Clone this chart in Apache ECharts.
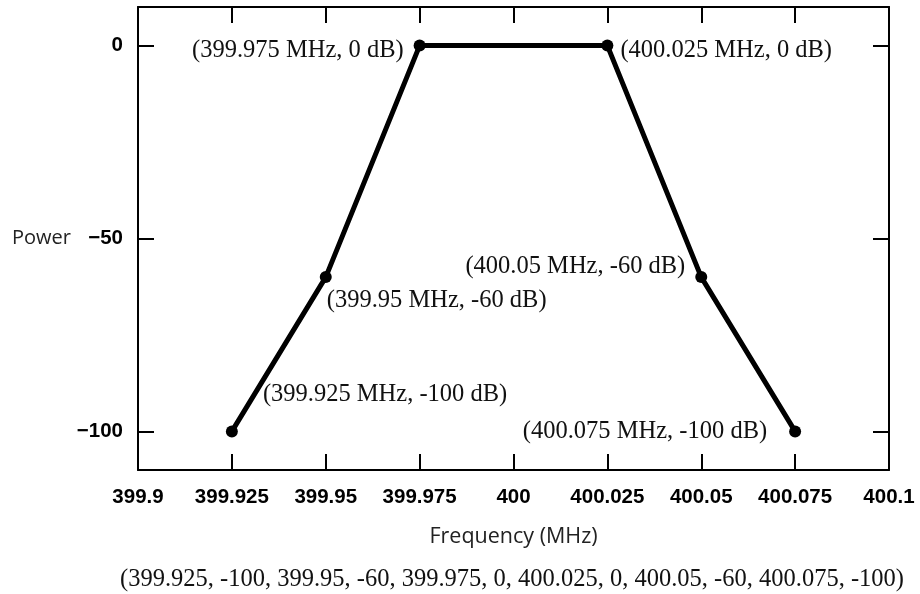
<!DOCTYPE html>
<html>
<head>
<meta charset="utf-8">
<script src="https://cdn.jsdelivr.net/npm/echarts@6/dist/echarts.min.js"></script>
<style>
  html, body { margin: 0; padding: 0; background: #fff; }
  #chart { width: 920px; height: 594px; }
</style>
</head>
<body>
<div id="chart"></div>
<script>
// mask corner points (MHz, dB)
var freqs = [399.925, 399.95, 399.975, 400.025, 400.05, 400.075];
var powers = [-100, -60, 0, 0, -60, -100];
var pointLabels = [
    '(399.925 MHz, -100 dB)',
    '(399.95 MHz, -60 dB)',
    '(399.975 MHz, 0 dB)',
    '(400.025 MHz, 0 dB)',
    '(400.05 MHz, -60 dB)',
    '(400.075 MHz, -100 dB)'
];
var powerTicks = [-100, -50, 0];
var caption = '(399.925, -100, 399.95, -60, 399.975, 0, 400.025, 0, 400.05, -60, 400.075, -100)';

// where each label sits next to its point
var labelPlace = [
    { position: 'right', offset: [20, -37] },
    { position: 'right', offset: [-10, 23] },
    { position: 'left', offset: [-5, 5] },
    { position: 'right', offset: [2, 5] },
    { position: 'left', offset: [-5, -11] },
    { position: 'left', offset: [-17, 0] }
];

var myChart = echarts.init(document.getElementById('chart'));

var points = freqs.map(function (f, i) {
    return {
        value: [f, powers[i]],
        label: {
            show: true,
            formatter: pointLabels[i],
            position: labelPlace[i].position,
            offset: labelPlace[i].offset
        }
    };
});

var tickFont = {
    color: '#000',
    fontFamily: 'Liberation Sans',
    fontWeight: 'bold',
    fontSize: 20.5
};
var frameLine = { onZero: false, lineStyle: { color: '#000', width: 2 } };
var innerTick = { inside: true, length: 16, lineStyle: { color: '#000', width: 2 } };

var option = {
    animation: false,
    backgroundColor: '#fff',
    grid: {
        left: 138,
        right: 31,
        top: 7,
        bottom: 124
    },
    xAxis: [{
        type: 'value',
        min: 399.9,
        max: 400.1,
        interval: 0.025,
        name: 'Frequency (MHz)',
        nameLocation: 'middle',
        nameGap: 56,
        nameTextStyle: {
            color: '#222',
            fontFamily: 'Open Sans',
            fontSize: 21.5
        },
        splitLine: { show: false },
        axisLine: frameLine,
        axisTick: innerTick,
        axisLabel: Object.assign({
            margin: 17,
            formatter: function (v) { return String(+v.toFixed(3)); }
        }, tickFont)
    }, {
        type: 'value',
        position: 'top',
        min: 399.9,
        max: 400.1,
        interval: 0.025,
        splitLine: { show: false },
        axisLine: frameLine,
        axisTick: innerTick,
        axisLabel: { show: false }
    }],
    yAxis: [{
        type: 'value',
        min: -110,
        max: 10,
        name: 'Power',
        nameLocation: 'middle',
        nameRotate: 0,
        nameGap: 66,
        nameTextStyle: {
            color: '#222',
            fontFamily: 'Open Sans',
            fontSize: 20
        },
        splitLine: { show: false },
        axisLine: frameLine,
        axisTick: Object.assign({ customValues: powerTicks }, innerTick),
        axisLabel: Object.assign({
            margin: 15,
            customValues: powerTicks,
            formatter: function (v) { return String(v).replace('-', '\u2212'); }
        }, tickFont)
    }, {
        type: 'value',
        position: 'right',
        min: -110,
        max: 10,
        splitLine: { show: false },
        axisLine: frameLine,
        axisTick: Object.assign({ customValues: powerTicks }, innerTick),
        axisLabel: { show: false }
    }],
    graphic: [{
        type: 'text',
        left: 120,
        top: 567,
        style: {
            text: caption,
            fill: '#111',
            font: '24.5px "Liberation Serif"'
        }
    }],
    series: [{
        type: 'line',
        data: points,
        symbol: 'circle',
        symbolSize: 12,
        itemStyle: { color: '#000' },
        lineStyle: { color: '#000', width: 5 },
        label: {
            color: '#111',
            fontFamily: 'Liberation Serif',
            fontSize: 24.5,
            distance: 5
        }
    }]
};

myChart.setOption(option);
</script>
</body>
</html>
